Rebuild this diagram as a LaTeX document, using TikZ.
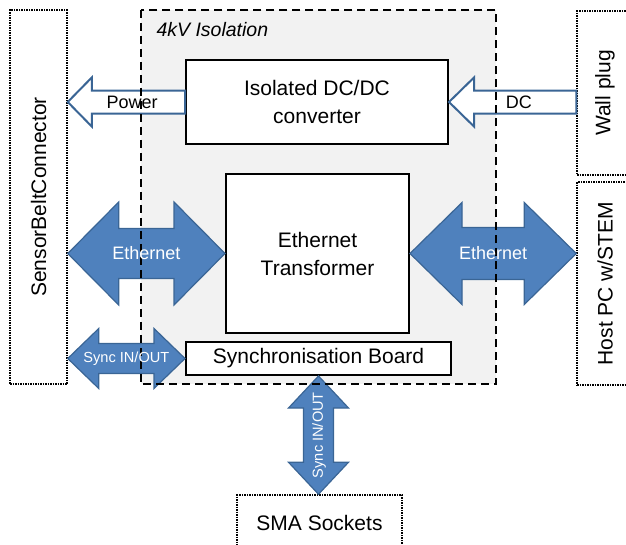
\documentclass[tikz,border=0pt]{standalone}
\usepackage{fontspec}
\setmainfont{Liberation Sans}
\usetikzlibrary{calc,positioning}

\definecolor{arrowfill}{HTML}{4F81BD}
\definecolor{arrowline}{HTML}{3A6595}
\definecolor{isogray}{HTML}{F2F2F2}

\tikzset{
  block/.style={draw,line width=2pt,fill=white,align=center,font=\fontsize{21}{28}\selectfont},
  port/.style={draw,densely dotted,line width=1.5pt,fill=white,font=\fontsize{21}{28}\selectfont},
  fatarrow/.style={draw=arrowline,fill=arrowfill,line width=1.2pt,line join=miter},
  hollowarrow/.style={draw=arrowline,fill=white,line width=2pt,line join=miter},
  arrowlabel/.style={text=white,font=\fontsize{18}{20}\selectfont},
  isoborder/.style={draw,line width=1.5pt,dash pattern=on 8pt off 5pt}
}

% #1 left tip, #2 right tip, #3 head length, #4 head half width, #5 shaft half width
\newcommand{\hdblarrow}[5]{%
  \draw[fatarrow] let \p1=(#1), \p2=(#2) in
    (\p1) -- (\x1+#3,\y1+#4) -- (\x1+#3,\y1+#5) -- (\x2-#3,\y1+#5) -- (\x2-#3,\y1+#4)
    -- (\x2,\y1) -- (\x2-#3,\y1-#4) -- (\x2-#3,\y1-#5) -- (\x1+#3,\y1-#5) -- (\x1+#3,\y1-#4) -- cycle;}
\newcommand{\vdblarrow}[5]{%
  \draw[fatarrow] let \p1=(#1), \p2=(#2) in
    (\p1) -- (\x1+#4,\y1-#3) -- (\x1+#5,\y1-#3) -- (\x1+#5,\y2+#3) -- (\x1+#4,\y2+#3)
    -- (\x1,\y2) -- (\x1-#4,\y2+#3) -- (\x1-#5,\y2+#3) -- (\x1-#5,\y1-#3) -- (\x1-#4,\y1-#3) -- cycle;}
\newcommand{\leftarrowshape}[5]{%
  \draw[hollowarrow] let \p1=(#1), \p2=(#2) in
    (\p1) -- (\x1+#3,\y1+#4) -- (\x1+#3,\y1+#5) -- (\x2,\y1+#5) -- (\x2,\y1-#5)
    -- (\x1+#3,\y1-#5) -- (\x1+#3,\y1-#4) -- cycle;}

\begin{document}
\begin{tikzpicture}[x=1pt,y=-1pt]
  \useasboundingbox (0,0) rectangle (626,544);

  \node[fill=isogray,minimum width=355pt,minimum height=374pt] (iso) at (318.5,197) {};

  \node[port,minimum width=57pt,minimum height=374pt] (belt) at (38.5,197) {\rotatebox{90}{SensorBeltConnector}};
  \node[port,minimum width=56pt,minimum height=164pt] (wall) at (605,93) {\rotatebox{90}{Wall plug}};
  \node[port,minimum width=56pt,minimum height=203pt] (host) at (605,283.5) {\rotatebox{90}{Host PC w/STEM}};
  \node[port,minimum width=165pt,minimum height=56pt] (sma) at (319.5,523) {SMA Sockets};

  \node[block,minimum width=262pt,minimum height=84pt] (conv) at (317,102) {Isolated DC/DC\\converter};
  \node[block,minimum width=183pt,minimum height=159pt] (trans) at (317.5,253.5) {Ethernet\\Transformer};
  \node[block,inner sep=2pt,minimum width=265pt,minimum height=33pt] (sync) at (318.5,358.5) {Synchronisation Board};

  \leftarrowshape{belt.east |- conv.west}{conv.west}{24pt}{24.5pt}{11.5pt}
  \leftarrowshape{conv.east}{wall.west |- conv.east}{25pt}{24.5pt}{11.5pt}
  \hdblarrow{belt.east |- trans.west}{trans.west}{51pt}{51.5pt}{25pt}
  \hdblarrow{trans.east}{host.west |- trans.east}{52pt}{51pt}{26pt}
  \hdblarrow{belt.east |- sync.west}{sync.west}{31pt}{30pt}{15pt}
  \vdblarrow{sync.south}{sma.north}{32pt}{30pt}{15pt}

  \draw[isoborder] (iso.north west) rectangle (iso.south east);
  \node[anchor=west,font=\fontsize{19.5}{22}\selectfont\itshape] (isolabel) at (153,30) {4kV Isolation};

  \path (belt.east |- conv.west) -- (conv.west) node[pos=0.55,font=\fontsize{18}{20}\selectfont] (powerlabel) {Power};
  \path (conv.east) -- (wall.west |- conv.east) node[pos=0.55,font=\fontsize{18}{20}\selectfont] (dclabel) {DC};
  \path (belt.east |- trans.west) -- (trans.west) node[midway,arrowlabel] (ethleft) {Ethernet};
  \path (trans.east) -- (host.west |- trans.east) node[midway,arrowlabel] (ethright) {Ethernet};
  \path (belt.east |- sync.west) -- (sync.west) node[midway,arrowlabel,font=\fontsize{14.6}{16}\selectfont] (syncleft) {Sync IN/OUT};
  \path (sync.south) -- (sma.north) node[midway,arrowlabel,rotate=90,font=\fontsize{14.6}{16}\selectfont] (syncdown) {Sync IN/OUT};
\end{tikzpicture}
\end{document}
